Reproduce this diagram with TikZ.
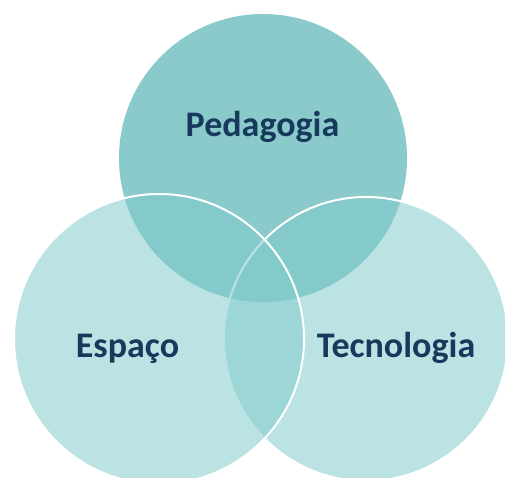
\documentclass[tikz,border=0pt]{standalone}
\usepackage{fontspec}
\setmainfont{Carlito}
\definecolor{topfill}{RGB}{138,202,202}
\definecolor{sidefill}{RGB}{130,203,203}
\definecolor{labelblue}{RGB}{23,58,92}
\begin{document}
\begin{tikzpicture}[x=1pt,y=-1pt,
  topcircle/.style={circle,fill=topfill,draw=none,inner sep=0pt,outer sep=0pt},
  sidecircle/.style={circle,fill=sidefill,fill opacity=0.54,draw=white,draw opacity=1,line width=2pt,inner sep=0pt,outer sep=0pt},
  lbl/.style={anchor=base,text=labelblue,font=\fontsize{36}{42}\selectfont\bfseries,inner sep=0pt}]
\useasboundingbox (0,0) rectangle (505,478);
\begin{scope}
\clip (0,0) rectangle (505,478);
\node[topcircle,minimum size=288pt] (ped) at (263,158) {};
\node[sidecircle,minimum size=284pt] (tec) at (366,339) {};
\node[sidecircle,minimum size=290pt] (esp) at (159,339) {};
\end{scope}
\node[lbl] (tped) at (262.5,137) {Pedagogia};
\node[lbl] (tesp) at (127.5,357) {Espaço};
\node[lbl] (ttec) at (396,357) {Tecnologia};
\end{tikzpicture}
\end{document}
